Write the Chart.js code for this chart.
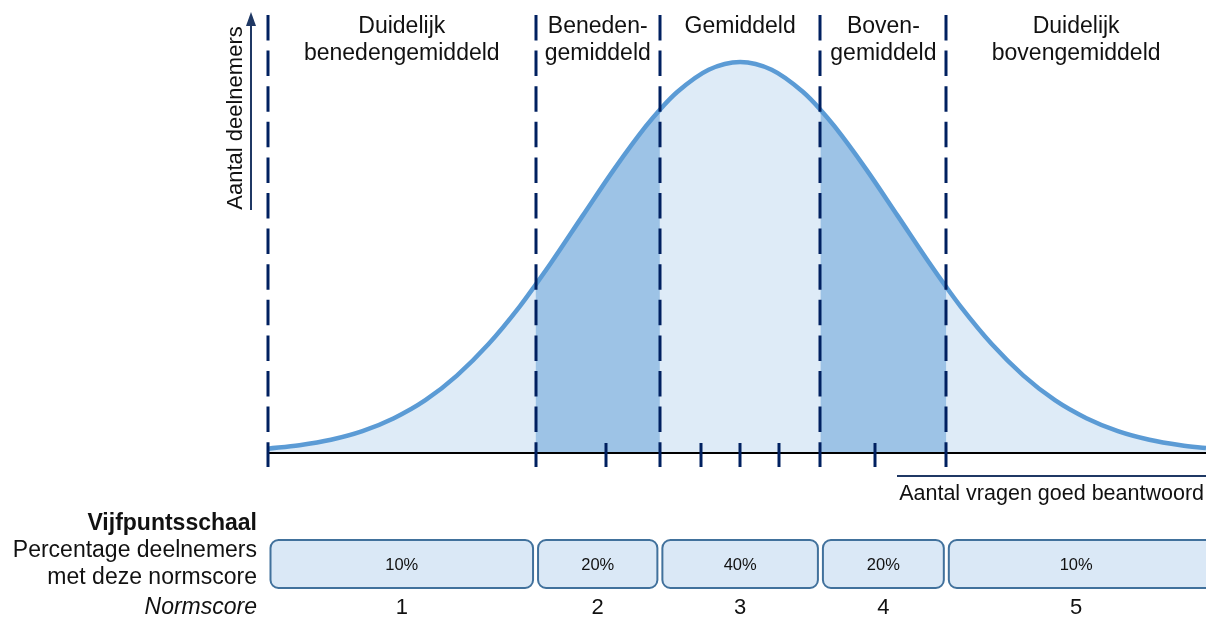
<!DOCTYPE html>
<html>
<head>
<meta charset="utf-8">
<script src="https://cdn.jsdelivr.net/npm/chart.js@4"></script>
<style>
  body { margin: 0; background: #fff; }
  #wrap { width: 1206px; height: 617px; }
</style>
</head>
<body>
<div id="wrap"><canvas id="myChart"></canvas></div>
<script>
// curve (height relative to the peak = 100)
const curveX = [-3, -2.8, -2.6, -2.4, -2.2, -2.0, -1.8, -1.6, -1.4, -1.3, -1.2, -1.0, -0.8, -0.6, -0.51, -0.4, -0.2, 0,
  0.2, 0.4, 0.51, 0.6, 0.8, 1.0, 1.2, 1.31, 1.4, 1.6, 1.8, 2.0, 2.2, 2.4, 2.6, 2.8, 2.96];
const curveY = [1.1, 2.0, 3.4, 5.6, 8.9, 13.5, 19.8, 27.8, 37.5, 43.0, 48.7, 60.7, 72.6, 83.5, 87.8, 92.3, 98.0, 100,
  98.0, 92.3, 87.8, 83.5, 72.6, 60.7, 48.7, 42.4, 37.5, 27.8, 19.8, 13.5, 8.9, 5.6, 3.4, 2.0, 1.25];

const cutoffs = [-1.3, -0.51, 0.51, 1.31];
const scoreTicks = [-0.85, -0.25, 0, 0.25, 0.86];
const regionLabels = [
  ["Duidelijk", "benedengemiddeld"],
  ["Beneden-", "gemiddeld"],
  ["Gemiddeld"],
  ["Boven-", "gemiddeld"],
  ["Duidelijk", "bovengemiddeld"],
];
const percentages = ["10%", "20%", "40%", "20%", "10%"];
const normscores = ["1", "2", "3", "4", "5"];
const xMin = -3;
const xMax = 2.96;

const FONT = "'Liberation Sans', Arial, sans-serif";
const NAVY = "#002060";

const points = curveX.map((x, i) => ({ x: x, y: curveY[i] }));
const between = (a, b) => points.filter((p) => p.x >= a && p.x <= b);

const overlay = {
  id: "overlay",
  afterDatasetsDraw(chart) {
    const ctx = chart.ctx;
    const xs = chart.scales.x;
    const ys = chart.scales.y;
    const base = ys.getPixelForValue(0);
    const left = xs.getPixelForValue(xMin);
    const right = chart.chartArea.right;
    const bounds = [xMin].concat(cutoffs, [xMax]);
    ctx.save();

    // x axis
    ctx.strokeStyle = "#000";
    ctx.lineWidth = 2;
    ctx.beginPath();
    ctx.moveTo(left, base);
    ctx.lineTo(right, base);
    ctx.stroke();

    // dashed boundaries
    ctx.strokeStyle = NAVY;
    ctx.lineWidth = 3;
    ctx.setLineDash([25.5, 10.1]);
    [xMin].concat(cutoffs).forEach((v) => {
      const px = Math.round(xs.getPixelForValue(v));
      ctx.beginPath();
      ctx.moveTo(px, 15);
      ctx.lineTo(px, 467);
      ctx.stroke();
    });
    ctx.setLineDash([]);

    // score ticks
    scoreTicks.forEach((v) => {
      const px = Math.round(xs.getPixelForValue(v));
      ctx.beginPath();
      ctx.moveTo(px, 443);
      ctx.lineTo(px, 467);
      ctx.stroke();
    });

    // y arrow
    ctx.strokeStyle = "#1f3864";
    ctx.fillStyle = "#1f3864";
    ctx.lineWidth = 2;
    ctx.beginPath();
    ctx.moveTo(251, 210);
    ctx.lineTo(251, 24);
    ctx.stroke();
    ctx.beginPath();
    ctx.moveTo(251, 12);
    ctx.lineTo(246, 26);
    ctx.lineTo(256, 26);
    ctx.closePath();
    ctx.fill();

    ctx.fillStyle = "#111";
    ctx.font = "22px " + FONT;
    ctx.textAlign = "center";
    ctx.textBaseline = "middle";
    ctx.save();
    ctx.translate(236, 118);
    ctx.rotate(-Math.PI / 2);
    ctx.fillText("Aantal deelnemers", 0, 0);
    ctx.restore();

    // x axis caption
    ctx.strokeStyle = "#1f3864";
    ctx.lineWidth = 2;
    ctx.beginPath();
    ctx.moveTo(897, 476);
    ctx.lineTo(1206, 476);
    ctx.stroke();
    ctx.font = "21.5px " + FONT;
    ctx.textAlign = "right";
    ctx.fillText("Aantal vragen goed beantwoord", 1204, 494);

    // region labels
    ctx.textAlign = "center";
    ctx.font = "23px " + FONT;
    for (let i = 0; i < 5; i++) {
      const cx = (xs.getPixelForValue(bounds[i]) + xs.getPixelForValue(bounds[i + 1])) / 2;
      regionLabels[i].forEach((t, j) => ctx.fillText(t, cx, 27 + j * 27));
    }

    // bottom table
    ctx.textAlign = "right";
    ctx.font = "bold 23px " + FONT;
    ctx.fillText("Vijfpuntsschaal", 257, 524);
    ctx.font = "23px " + FONT;
    ctx.fillText("Percentage deelnemers", 257, 551);
    ctx.fillText("met deze normscore", 257, 578);
    ctx.font = "italic 23px " + FONT;
    ctx.fillText("Normscore", 257, 608);

    for (let i = 0; i < 5; i++) {
      let x0 = xs.getPixelForValue(bounds[i]) + 2.5;
      let x1 = xs.getPixelForValue(bounds[i + 1]) - 2.5;
      if (i === 4) x1 = right + 10;
      ctx.beginPath();
      ctx.roundRect(x0, 540, x1 - x0, 48, 8);
      ctx.fillStyle = "#dae8f6";
      ctx.fill();
      ctx.strokeStyle = "#41719c";
      ctx.lineWidth = 2;
      ctx.stroke();
      const cx = (xs.getPixelForValue(bounds[i]) + xs.getPixelForValue(bounds[i + 1])) / 2;
      ctx.fillStyle = "#111";
      ctx.textAlign = "center";
      ctx.font = "16.5px " + FONT;
      ctx.fillText(percentages[i], cx, 565);
      ctx.font = "22px " + FONT;
      ctx.fillText(normscores[i], cx, 608);
    }
    ctx.restore();
  },
};

const ctx = document.getElementById("myChart").getContext("2d");
const myChart = new Chart(ctx, {
  type: "line",
  data: {
    datasets: [
      {
        data: points,
        borderColor: "#5b9bd5",
        borderWidth: 4.5,
        fill: false,
        pointRadius: 0,
        cubicInterpolationMode: "monotone",
      },
      {
        data: between(cutoffs[0], cutoffs[1]),
        borderWidth: 0,
        backgroundColor: "#9dc3e6",
        fill: "origin",
        pointRadius: 0,
        cubicInterpolationMode: "monotone",
      },
      {
        data: between(cutoffs[2], cutoffs[3]),
        borderWidth: 0,
        backgroundColor: "#9dc3e6",
        fill: "origin",
        pointRadius: 0,
        cubicInterpolationMode: "monotone",
      },
      {
        data: points,
        borderWidth: 0,
        backgroundColor: "#deebf7",
        fill: "origin",
        pointRadius: 0,
        cubicInterpolationMode: "monotone",
      },
    ],
  },
  options: {
    responsive: true,
    maintainAspectRatio: false,
    animation: false,
    layout: { padding: { left: 268, right: 0, top: 15, bottom: 164 } },
    plugins: { legend: { display: false }, tooltip: { enabled: false } },
    scales: {
      x: { type: "linear", min: xMin, max: xMax, display: false },
      y: { min: 0, max: 112, display: false },
    },
  },
  plugins: [overlay],
});
</script>
</body>
</html>
